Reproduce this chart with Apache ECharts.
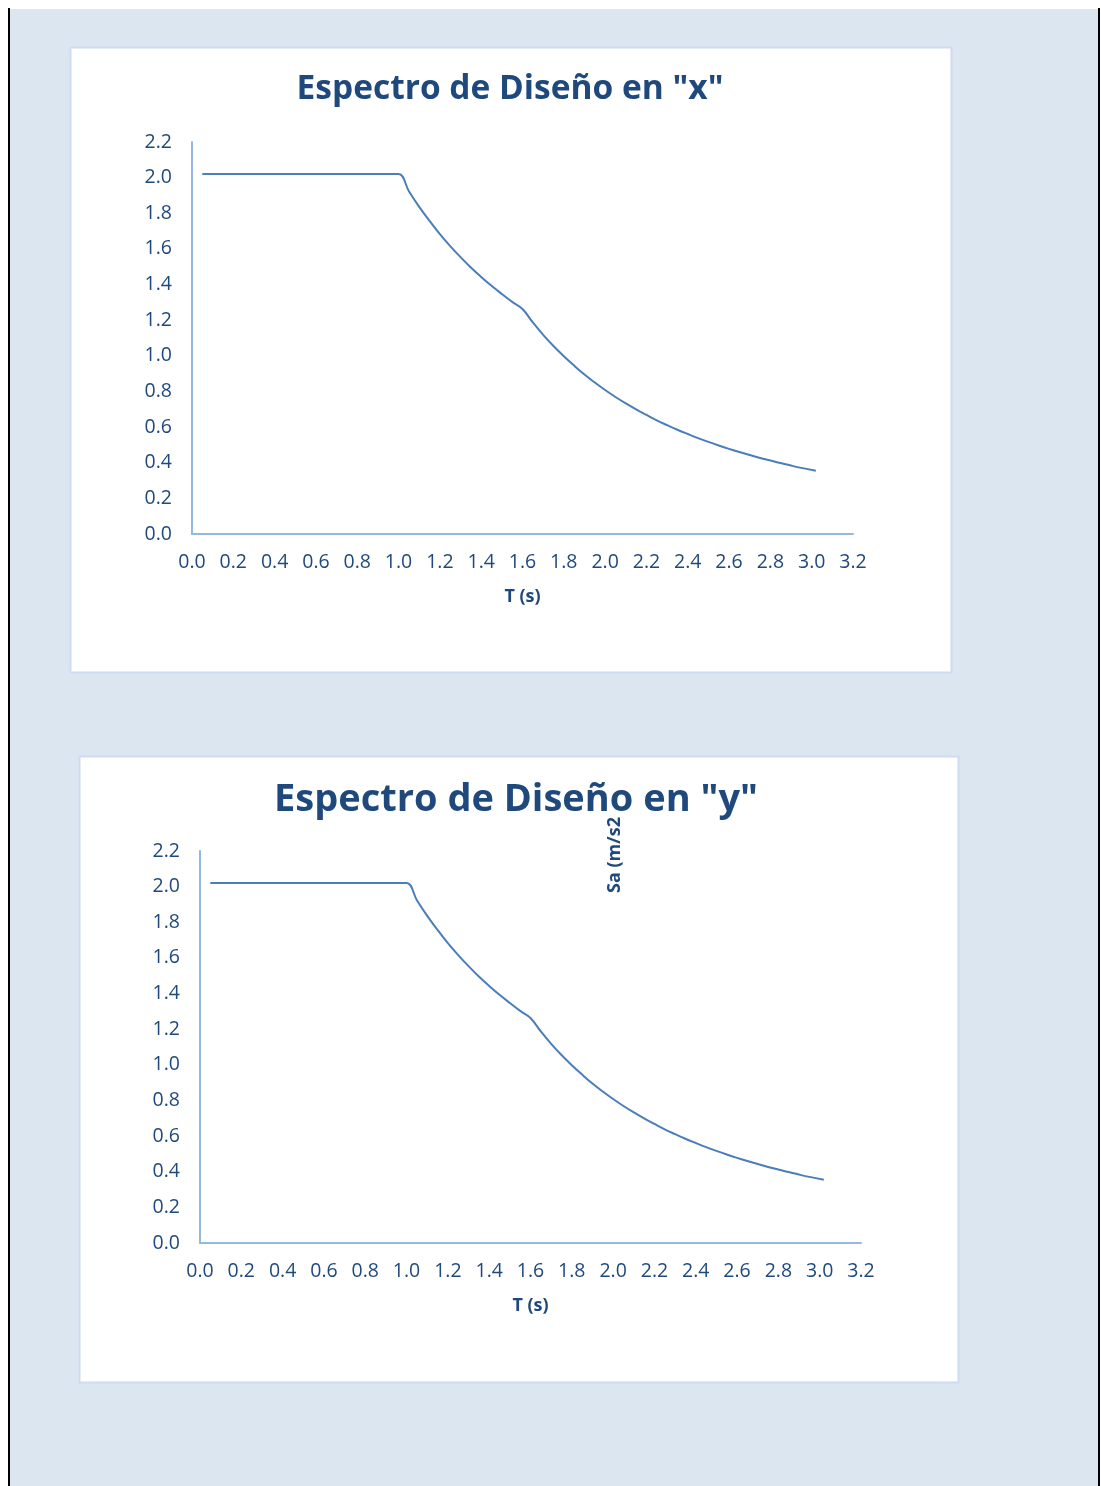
<!DOCTYPE html>
<html>
<head>
<meta charset="utf-8">
<script src="https://cdn.jsdelivr.net/npm/echarts@6/dist/echarts.min.js"></script>
<style>
html,body{margin:0;padding:0;background:#ffffff;}
#main{width:1101px;height:1486px;}
</style>
</head>
<body>
<div id="main"></div>
<script>
// ---- Data ----
var titleX = 'Espectro de Diseño en "x"';
var titleY = 'Espectro de Diseño en "y"';
var xAxisName = 'T (s)';
var yAxisNameY = 'Sa (m/s2';
var periodT = [0.05, 0.1, 0.2, 0.3, 0.4, 0.5, 0.6, 0.7, 0.8, 0.9, 1.0,
               1.05, 1.10, 1.15, 1.20, 1.25, 1.30, 1.35, 1.40, 1.45, 1.50, 1.55, 1.60,
               1.65, 1.70, 1.75, 1.80, 1.85, 1.90, 1.95, 2.00, 2.05, 2.10, 2.15, 2.20,
               2.25, 2.30, 2.35, 2.40, 2.45, 2.50, 2.55, 2.60, 2.65, 2.70, 2.75, 2.80,
               2.85, 2.90, 2.95, 3.02];
var saX = [2.02, 2.02, 2.02, 2.02, 2.02, 2.02, 2.02, 2.02, 2.02, 2.02, 2.02,
           1.924, 1.836, 1.757, 1.683, 1.616, 1.554, 1.496, 1.443, 1.393, 1.347, 1.303, 1.263,
           1.187, 1.118, 1.055, 0.998, 0.945, 0.895, 0.850, 0.808, 0.769, 0.733, 0.699, 0.668,
           0.638, 0.611, 0.585, 0.561, 0.538, 0.517, 0.497, 0.478, 0.460, 0.443, 0.427, 0.412,
           0.398, 0.384, 0.371, 0.355];
var saY = [2.02, 2.02, 2.02, 2.02, 2.02, 2.02, 2.02, 2.02, 2.02, 2.02, 2.02,
           1.924, 1.836, 1.757, 1.683, 1.616, 1.554, 1.496, 1.443, 1.393, 1.347, 1.303, 1.263,
           1.187, 1.118, 1.055, 0.998, 0.945, 0.895, 0.850, 0.808, 0.769, 0.733, 0.699, 0.668,
           0.638, 0.611, 0.585, 0.561, 0.538, 0.517, 0.497, 0.478, 0.460, 0.443, 0.427, 0.412,
           0.398, 0.384, 0.371, 0.355];
var xTickMin = 0, xTickMax = 3.2, xTickStep = 0.2;
var yTickMin = 0, yTickMax = 2.2, yTickStep = 0.2;

// ---- Styles ----
var FONT = '"Open Sans", "Noto Sans", sans-serif';
var TXT = '#1f497d';
var AXIS = '#95b8e3';
var LINE = '#4a7ebb';

function pairs(xs, ys){ return xs.map(function(x,i){ return [x, ys[i]]; }); }

function xAx(gi){
  return {
    type:'value', gridIndex:gi, min:xTickMin, max:xTickMax, interval:xTickStep,
    name:xAxisName, nameLocation:'middle', nameGap:54,
    nameTextStyle:{color:TXT, fontFamily:FONT, fontWeight:'bold', fontSize:18},
    axisLine:{show:true, lineStyle:{color:AXIS, width:2}},
    axisTick:{show:false}, splitLine:{show:false},
    axisLabel:{color:TXT, fontFamily:FONT, fontSize:19.5, margin:18,
      formatter:function(v){ return v.toFixed(1); }}
  };
}
function yAx(gi){
  return {
    type:'value', gridIndex:gi, min:yTickMin, max:yTickMax, interval:yTickStep,
    axisLine:{show:true, lineStyle:{color:AXIS, width:2}},
    axisTick:{show:false}, splitLine:{show:false},
    axisLabel:{color:TXT, fontFamily:FONT, fontSize:19.5, margin:20,
      formatter:function(v){ return v.toFixed(1); }}
  };
}

var chart = echarts.init(document.getElementById('main'), null, {renderer:'canvas'});
chart.setOption({
  animation:false,
  backgroundColor:'#ffffff',
  graphic:[
    {type:'rect', z:-10, shape:{x:10, y:9, width:1089, height:1477}, style:{fill:'#dce6f1'}},
    {type:'rect', z:-9, shape:{x:8, y:8, width:2, height:1478}, style:{fill:'#000000'}},
    {type:'rect', z:-9, shape:{x:1098, y:8, width:2, height:1478}, style:{fill:'#000000'}},
    {type:'rect', z:-8, shape:{x:70.5, y:47.5, width:881, height:625}, style:{fill:'#ffffff', stroke:'#cddcf0', lineWidth:2}},
    {type:'rect', z:-8, shape:{x:79.5, y:756.5, width:879, height:626}, style:{fill:'#ffffff', stroke:'#cddcf0', lineWidth:2}},
    {type:'text', z:10, x:615, y:855, rotation:Math.PI/2,
      style:{text:yAxisNameY, fill:TXT, font:'bold 18px ' + FONT, align:'center', verticalAlign:'middle'}}
  ],
  title:[
    {text:titleX, left:505, top:67, textAlign:'center',
      textStyle:{color:TXT, fontFamily:FONT, fontWeight:'bold', fontSize:33.5}},
    {text:titleY, left:511, top:776, textAlign:'center',
      textStyle:{color:TXT, fontFamily:FONT, fontWeight:'bold', fontSize:38}}
  ],
  grid:[
    {left:192, top:142, width:661, height:392},
    {left:200, top:851, width:661, height:392}
  ],
  xAxis:[xAx(0), xAx(1)],
  yAxis:[yAx(0), yAx(1)],
  series:[
    {type:'line', xAxisIndex:0, yAxisIndex:0, data:pairs(periodT, saX), smooth:0.4,
      showSymbol:false, lineStyle:{color:LINE, width:2}},
    {type:'line', xAxisIndex:1, yAxisIndex:1, data:pairs(periodT, saY), smooth:0.4,
      showSymbol:false, lineStyle:{color:LINE, width:2}}
  ]
});
</script>
</body>
</html>
